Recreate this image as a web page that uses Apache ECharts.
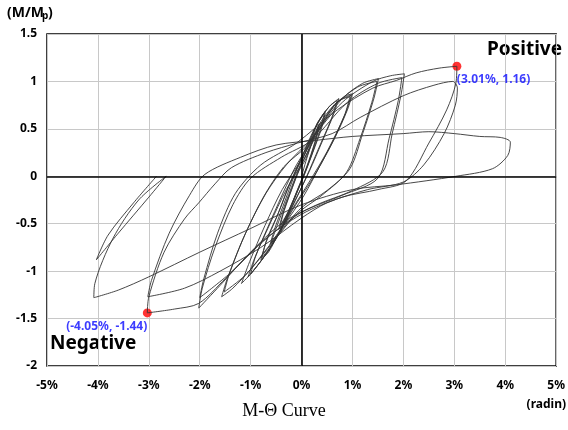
<!DOCTYPE html>
<html>
<head>
<meta charset="utf-8">
<script src="https://cdn.jsdelivr.net/npm/echarts@6/dist/echarts.min.js"></script>
<style>
html, body { margin: 0; padding: 0; background: #fff; }
#chart { width: 568px; height: 430px; }
</style>
</head>
<body>
<div id="chart"></div>
<script>
// rotation (%) / moment ratio M/Mp, one array per cycle
var loop0375a = [[0,0],[0.12,0.22],[0.25,0.42],[0.33,0.52],[0.26,0.36],[0.1,0.1],[-0.08,-0.14],[-0.25,-0.36],[-0.42,-0.52],[-0.34,-0.36],[-0.18,-0.12],[-0.05,0.06]];
var loop0375b = [[0.08,0.18],[0.22,0.38],[0.35,0.55],[0.28,0.38],[0.12,0.12],[-0.06,-0.12],[-0.26,-0.38],[-0.45,-0.56],[-0.36,-0.38],[-0.2,-0.14],[-0.04,0.08]];
var loop05a = [[0.15,0.3],[0.3,0.55],[0.47,0.69],[0.4,0.52],[0.22,0.25],[0.02,-0.03],[-0.22,-0.32],[-0.42,-0.56],[-0.6,-0.7],[-0.5,-0.55],[-0.3,-0.26],[-0.1,0.02]];
var loop05b = [[0.1,0.28],[0.28,0.52],[0.45,0.67],[0.36,0.48],[0.18,0.2],[-0.02,-0.08],[-0.25,-0.38],[-0.45,-0.6],[-0.62,-0.72],[-0.52,-0.54],[-0.32,-0.25],[-0.12,0.04]];
var loop075a = [[0.08,0.3],[0.3,0.55],[0.52,0.72],[0.73,0.82],[0.62,0.64],[0.4,0.36],[0.15,0.05],[-0.15,-0.28],[-0.45,-0.6],[-0.65,-0.8],[-0.8,-0.88],[-0.7,-0.7],[-0.48,-0.42],[-0.22,-0.06]];
var loop075b = [[0.05,0.25],[0.32,0.56],[0.55,0.74],[0.7,0.8],[0.58,0.6],[0.34,0.3],[0.1,0.0],[-0.2,-0.34],[-0.5,-0.66],[-0.78,-0.86],[-0.68,-0.66],[-0.45,-0.38],[-0.2,-0.04]];
var loop10a = [[0.05,0.22],[0.35,0.55],[0.65,0.76],[0.88,0.85],[1.0,0.87],[0.9,0.7],[0.65,0.4],[0.35,0.1],[0.05,-0.2],[-0.35,-0.52],[-0.75,-0.86],[-1.05,-1.06],[-0.92,-0.86],[-0.62,-0.5],[-0.3,-0.14]];
var loop10b = [[0.02,0.15],[0.38,0.52],[0.7,0.78],[0.98,0.86],[0.86,0.66],[0.55,0.3],[0.2,-0.04],[-0.15,-0.33],[-0.6,-0.74],[-0.95,-1.0],[-1.18,-1.13],[-1.02,-0.9],[-0.72,-0.52],[-0.38,-0.14]];
var loop10c = [[0.0,0.18],[0.4,0.56],[0.72,0.79],[0.95,0.84],[0.84,0.64],[0.5,0.26],[0.15,-0.06],[-0.2,-0.36],[-0.62,-0.76],[-1.0,-1.03],[-0.9,-0.84],[-0.6,-0.46],[-0.3,-0.1]];
var loop15a = [[-0.1,0.12],[0.35,0.5],[0.8,0.82],[1.2,0.98],[1.51,1.03],[1.42,0.82],[1.2,0.45],[0.95,0.08],[0.5,-0.15],[0,-0.33],[-0.5,-0.64],[-1.0,-0.98],[-1.35,-1.18],[-1.57,-1.27],[-1.46,-1.08],[-1.15,-0.66],[-0.75,-0.22],[-0.35,0.1]];
var loop15b = [[0.1,0.32],[0.6,0.72],[1.1,0.94],[1.48,1.0],[1.38,0.78],[1.15,0.4],[0.88,0.04],[0.4,-0.2],[-0.1,-0.4],[-0.6,-0.72],[-1.1,-1.04],[-1.52,-1.22],[-1.42,-1.03],[-1.1,-0.6],[-0.7,-0.18],[-0.3,0.12]];
var loop20a = [[0.2,0.4],[0.8,0.78],[1.4,1.0],[1.75,1.06],[2.02,1.08],[1.95,0.85],[1.78,0.45],[1.6,0.05],[1.0,-0.15],[0.3,-0.3],[-0.4,-0.5],[-1.0,-0.8],[-1.6,-1.15],[-2.02,-1.39],[-1.95,-1.18],[-1.7,-0.75],[-1.35,-0.3],[-1.0,-0.02],[-0.4,0.2]];
var loop20b = [[0.2,0.38],[0.9,0.78],[1.5,0.98],[1.97,1.04],[1.9,0.8],[1.72,0.4],[1.5,-0.02],[0.8,-0.2],[0,-0.38],[-0.7,-0.66],[-1.4,-1.02],[-2.0,-1.28],[-1.92,-1.08],[-1.65,-0.6],[-1.3,-0.18],[-0.8,0.12]];
var loop30a = [[-0.1,0.35],[0.7,0.7],[1.4,0.93],[1.86,1.01],[2.25,1.09],[2.7,1.14],[3.05,1.16],[3.03,0.98],[2.85,0.7],[2.5,0.35],[2.05,-0.05],[1.5,-0.14],[0.8,-0.22],[0,-0.4],[-0.8,-0.7],[-1.5,-1.08],[-2.02,-1.34],[-2.5,-1.4],[-3.03,-1.44],[-3.0,-1.27],[-2.7,-0.8],[-2.3,-0.45],[-2.02,-0.28],[-1.7,-0.08],[-1.38,0.09],[-0.7,0.25],[-0.08,0.35]];
var loop30b = [[0.6,0.45],[1.15,0.62],[2.0,0.85],[2.6,0.96],[2.97,1.0],[3.06,0.93],[3.02,0.75],[2.8,0.45],[2.4,0.12],[2.0,-0.06],[1.3,-0.14],[0.5,-0.28],[0,-0.44],[-0.8,-0.75],[-1.6,-1.0],[-2.3,-1.18],[-3.02,-1.27],[-2.95,-1.1],[-2.6,-0.6],[-2.2,-0.2],[-1.9,0.02],[-1.2,0.2]];
var loop40 = [[-0.5,0.33],[0.3,0.38],[1.0,0.42],[2.0,0.45],[2.5,0.47],[3.0,0.45],[3.5,0.42],[3.9,0.41],[4.1,0.36],[4.05,0.22],[3.75,0.08],[3.03,0.0],[1.86,-0.09],[1.0,-0.14],[0,-0.3],[-1.0,-0.55],[-2.0,-0.8],[-3.0,-1.06],[-3.6,-1.2],[-4.08,-1.28],[-4.06,-1.13],[-3.7,-0.65],[-3.2,-0.25],[-2.66,0],[-3.0,-0.22],[-3.6,-0.6],[-4.03,-0.88],[-3.8,-0.62],[-3.3,-0.28],[-2.85,0]];

var peakPoints = [[3.05, 1.16], [-3.03, -1.44]];
var peakLabels = ['(3.01%, 1.16)', '(-4.05%, -1.44)'];
var peakAlign = ['left', 'right'];
var xTicks = [-5, -4, -3, -2, -1, 0, 1, 2, 3, 4, 5];

var curve = [].concat(loop0375a, loop0375b, loop05a, loop05b, loop075a, loop075b,
  loop10a, loop10b, loop10c, loop15a, loop15b, loop20a, loop20b, loop30a, loop30b, loop40);

var peakData = peakPoints.map(function (p, i) {
  return { value: p, label: { align: peakAlign[i] } };
});

var font = 'Noto Sans';
var mychart = echarts.init(document.getElementById('chart'));
var option = {
  backgroundColor: '#fff',
  animation: false,
  grid: {
    left: 47, right: 7, top: 34, bottom: 64,
    show: true,
    borderColor: '#000',
    borderWidth: 1.5
  },
  graphic: [
    { type: 'text', left: 7, top: 6,
      style: { text: '(M/M', font: 'bold 14px "Noto Sans"', fill: '#000' } },
    { type: 'text', left: 42, top: 11,
      style: { text: 'p', font: 'bold 10px "Noto Sans"', fill: '#000' } },
    { type: 'text', left: 48, top: 6,
      style: { text: ')', font: 'bold 14px "Noto Sans"', fill: '#000' } },
    { type: 'text', right: 2, top: 399,
      style: { text: '(radin)', font: 'bold 12px "Noto Sans"', fill: '#000' } },
    { type: 'text', left: 'center', top: 402,
      style: { text: 'M-\u0398 Curve', font: '18px "Liberation Serif"', fill: '#000' } },
    { type: 'text', left: 487, top: 40,
      style: { text: 'Positive', font: 'bold 19px "Noto Sans"', fill: '#000' } },
    { type: 'text', left: 50, top: 334,
      style: { text: 'Negative', font: 'bold 19px "Noto Sans"', fill: '#000' } }
  ],
  xAxis: {
    type: 'value',
    min: -5, max: 5, interval: 1,
    axisLine: { show: false },
    axisTick: { show: false },
    splitLine: { lineStyle: { color: '#c8c8c8', width: 1 } },
    axisLabel: {
      margin: 14,
      fontFamily: font, fontWeight: 'bold', fontSize: 12, color: '#000',
      formatter: function (v) { return xTicks.indexOf(v) >= 0 ? v + '%' : ''; }
    }
  },
  yAxis: {
    type: 'value',
    min: -2, max: 1.5, interval: 0.5,
    axisLine: { show: false },
    axisTick: { show: false },
    splitLine: { lineStyle: { color: '#c8c8c8', width: 1 } },
    axisLabel: {
      margin: 10,
      fontFamily: font, fontWeight: 'bold', fontSize: 12, color: '#000'
    }
  },
  series: [
    {
      type: 'line',
      data: curve,
      showSymbol: false,
      smooth: 0.3,
      lineStyle: { color: '#333', width: 0.9 },
      markLine: {
        silent: true,
        symbol: 'none',
        label: { show: false },
        lineStyle: { color: '#000', width: 1.6, type: 'solid' },
        data: [{ xAxis: 0 }, { yAxis: 0 }]
      }
    },
    {
      type: 'scatter',
      data: peakData,
      symbolSize: 9,
      itemStyle: { color: '#ff0000' },
      label: {
        show: true,
        position: 'bottom',
        distance: 3,
        fontFamily: font,
        fontWeight: 'bold',
        fontSize: 12,
        color: '#0a0aff',
        formatter: function (p) { return peakLabels[p.dataIndex]; }
      }
    }
  ]
};
mychart.setOption(option);
</script>
</body>
</html>
